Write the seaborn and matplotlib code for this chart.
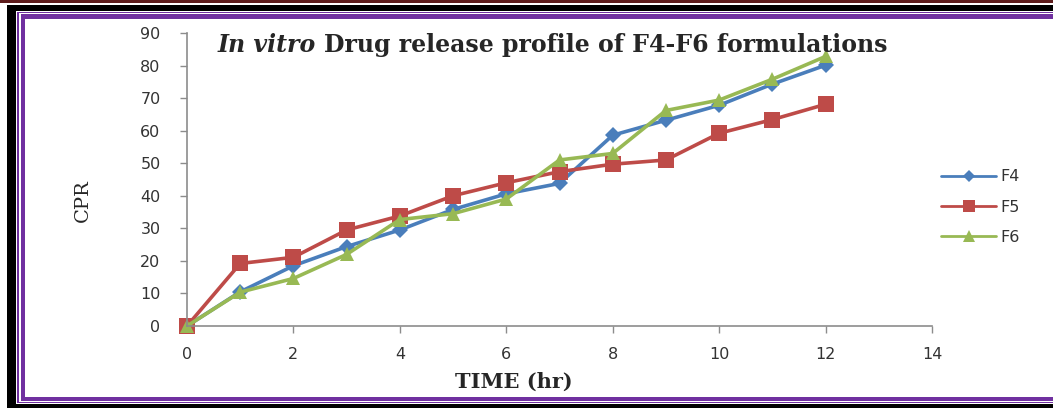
import matplotlib
matplotlib.use("Agg")
import matplotlib.pyplot as plt
import seaborn as sns
import pandas as pd
from matplotlib.patches import Rectangle

# ---- data ----
time_hr = [0, 1, 2, 3, 4, 5, 6, 7, 8, 9, 10, 11, 12]
f4 = [0, 10.5, 18.5, 24.4, 29.5, 35.8, 40.6, 43.8, 58.6, 63.2, 67.8, 74.3, 80.1]
f5 = [0, 19.2, 21.1, 29.5, 33.8, 40.0, 44.0, 47.4, 49.7, 51.0, 59.2, 63.4, 68.1]
f6 = [0, 10.4, 14.6, 22.0, 32.7, 34.5, 39.0, 51.0, 53.0, 66.2, 69.4, 75.8, 82.8]
series_names = ["F4", "F5", "F6"]
x_ticks = [0, 2, 4, 6, 8, 10, 12, 14]
y_ticks = [0, 10, 20, 30, 40, 50, 60, 70, 80, 90]

df = pd.concat([
    pd.DataFrame({"time": time_hr, "cpr": vals, "form": name})
    for name, vals in zip(series_names, [f4, f5, f6])
])

W, H = 1053, 408
sns.set_style("white")
fig = plt.figure(figsize=(W / 100, H / 100), dpi=100)
fig.patch.set_facecolor("white")

def px(x0, y0, x1, y1):
    return (x0 / W, 1 - y1 / H), (x1 - x0) / W, (y1 - y0) / H

def band(x0, y0, x1, y1, color):
    xy, w, h = px(x0, y0, x1, y1)
    fig.add_artist(Rectangle(xy, w, h, transform=fig.transFigure,
                             facecolor=color, edgecolor="none", zorder=0))

# decorative frame
band(0, 0, W, 2.5, "#5e1c1c")
band(7, 5, W, 11, "#000000")
band(7, 5, 16, H, "#000000")
band(7, 404, W, H, "#000000")
purple = "#7030A0"
band(17, 11.5, W, 13, purple)
band(17, 11.5, 19, 403, purple)
band(17, 401.5, W, 403, purple)
band(21, 14, W, 19, purple)
band(21, 14, 25, 400.5, purple)
band(21, 397, W, 400.5, purple)

ax_l, ax_r, ax_t, ax_b = 187, 932, 33, 326
ax = fig.add_axes([ax_l / W, 1 - ax_b / H, (ax_r - ax_l) / W, (ax_b - ax_t) / H])
ax.set_facecolor("none")

palette = {"F4": "#4A7EBB", "F5": "#BE4B48", "F6": "#98B954"}
sns.lineplot(data=df, x="time", y="cpr", hue="form", style="form",
             markers={"F4": "D", "F5": "s", "F6": "^"}, dashes=False,
             palette=palette, linewidth=2.6, markersize=10,
             markeredgewidth=0, ax=ax, legend=True, clip_on=False)
for line in ax.lines:
    if line.get_marker() == "D":
        line.set_markersize(8)
    elif line.get_marker() == "s":
        line.set_markersize(11)

ax.set_xlim(0, 14)
ax.set_ylim(0, 90)
ax.set_xticks(x_ticks)
ax.set_yticks(y_ticks)
tick_font = {"family": "DejaVu Sans", "size": 11.5}
ax.set_xticklabels([str(t) for t in x_ticks], fontdict=tick_font, color="#333333")
ax.set_yticklabels([str(t) for t in y_ticks], fontdict=tick_font, color="#333333")
for s in ["top", "right"]:
    ax.spines[s].set_visible(False)
for s in ["left", "bottom"]:
    ax.spines[s].set_color("#8c8c8c")
    ax.spines[s].set_linewidth(1.2)
ax.tick_params(axis="y", direction="out", length=5, width=1, color="#8c8c8c", pad=14, left=True)
ax.tick_params(axis="x", direction="out", length=5, width=1, color="#8c8c8c", pad=10, bottom=True)

def axfrac(xp, yp):
    return ((xp - ax_l) / (ax_r - ax_l), (ax_b - yp) / (ax_b - ax_t))

ax.set_xlabel("TIME (hr)", family="DejaVu Serif", fontweight="bold", fontsize=15)
ax.xaxis.set_label_coords(*axfrac(514, 382))
ax.xaxis.label.set_va("center")
ax.set_ylabel("CPR", family="DejaVu Serif", fontsize=14)
ax.yaxis.set_label_coords(*axfrac(83, 201))
ax.yaxis.label.set_va("center")

# title: italic "In vitro" + bold rest
t1 = fig.text(218 / W, 1 - 52 / H, "In vitro", family="DejaVu Serif",
              style="italic", fontweight="bold", fontsize=17, va="baseline")
fig.canvas.draw()
bb = t1.get_window_extent()
fig.text(bb.x1 / W + 8 / W, 1 - 52 / H, "Drug release profile of F4-F6 formulations",
         family="DejaVu Serif", fontweight="bold", fontsize=17, va="baseline")

leg = ax.legend(loc="upper left", bbox_to_anchor=(935 / W, 1 - 163 / H),
                bbox_transform=fig.transFigure, frameon=False,
                prop={"family": "DejaVu Sans", "size": 11.5},
                handlelength=3.4, labelspacing=0.95, borderaxespad=0, handletextpad=0.3)
for h in leg.legend_handles:
    h.set_linewidth(2.0)
    h.set_markersize(h.get_markersize() * 0.8)
for txt in leg.get_texts():
    txt.set_color("#333333")

fig.savefig("out.png", dpi=100)
